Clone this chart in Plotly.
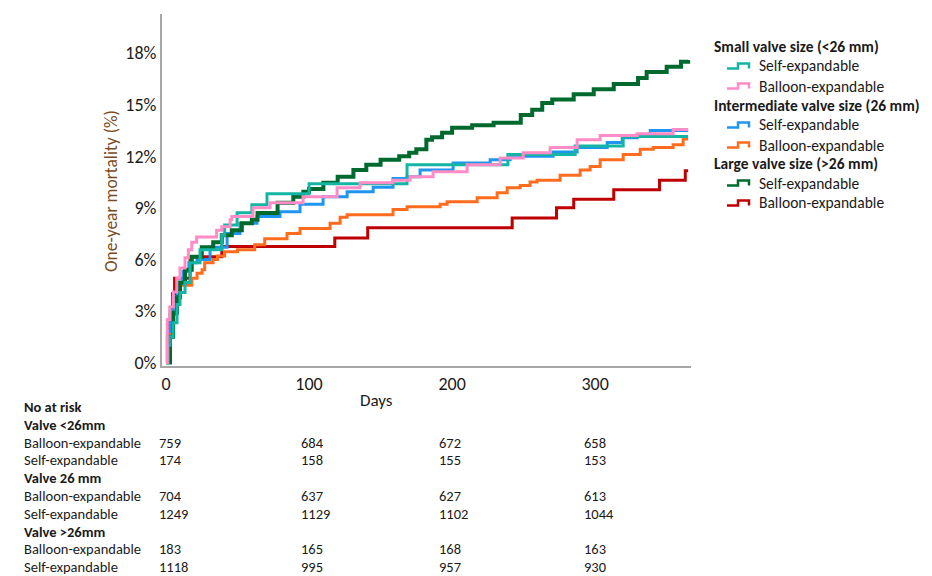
import plotly.graph_objects as go

# ---------------- data ----------------
x_tick_vals = [0, 100, 200, 300]
y_tick_vals = [0, 3, 6, 9, 12, 15, 18]
y_tick_text = ["0%", "3%", "6%", "9%", "12%", "15%", "18%"]

small_self_days = [0, 1.5, 2.8, 4.9, 7.7, 9.8, 13.3, 16.8, 23.8, 39, 41, 49.7, 60, 70.6, 100, 168.5, 239, 286, 319.6, 365]
small_self_pct = [0, 1.0, 1.5, 2.32, 3.37, 4.07, 4.65, 5.81, 6.56, 7.4, 8.0, 8.71, 9.17, 9.81, 10.4, 11.5, 12.1, 12.6, 13.15, 13.15]

small_balloon_days = [0, 0.9, 2.8, 5.1, 7.5, 9.8, 13.3, 15.6, 18, 21.4, 35.4, 39, 44.8, 46, 60.8, 72.7, 95.8,
                      119.6, 135.7, 158.7, 170.6, 186.7, 210.5, 233.6, 249.7, 268.5, 287.4, 303.5, 329.4, 354.5, 365]
small_balloon_pct = [0, 2.5, 3.25, 4.1, 4.9, 5.5, 6.1, 6.56, 7.0, 7.3, 7.7, 7.9, 8.3, 8.5, 9.0, 9.3, 9.64,
                     10.16, 10.45, 10.6, 10.8, 11.1, 11.5, 11.9, 12.2, 12.5, 12.95, 13.2, 13.3, 13.55, 13.55]

inter_self_days = [0, 1, 3, 5, 8, 12, 16, 21.7, 30.8, 42.7, 51.7, 63.6, 79.7, 93.7, 109.8, 126.6, 144.8, 158.7,
                   168.5, 177.6, 200.7, 226.6, 240.6, 270.6, 287.4, 308.4, 318.9, 329.4, 338.5, 365]
inter_self_pct = [0, 1.8, 3.0, 3.8, 4.6, 5.3, 5.8, 6.0, 6.7, 7.5, 8.1, 8.5, 8.77, 9.2, 9.64, 9.93, 10.2, 10.7,
                  10.8, 11.2, 11.6, 11.8, 12.0, 12.25, 12.5, 12.8, 13.07, 13.2, 13.5, 13.5]

inter_balloon_days = [0, 1, 3, 6, 10, 18, 21.7, 25.2, 27, 32.9, 36, 41, 50, 62, 69, 84.6, 93.7, 114.7, 121.7, 126.6,
                      158.7, 168.5, 191.6, 196.5, 217.5, 231.5, 238.5, 247.6, 254.5, 259.4, 275.5, 289.5, 296.5,
                      303.5, 319.6, 331.5, 340.6, 354.5, 361.5, 365]
inter_balloon_pct = [0, 1.5, 2.8, 3.8, 4.5, 4.9, 5.2, 5.4, 5.8, 6.0, 6.2, 6.45, 6.56, 6.85, 7.2, 7.5, 7.8, 8.1, 8.45, 8.6,
                     8.9, 9.06, 9.2, 9.35, 9.58, 9.87, 10.16, 10.3, 10.5, 10.6, 10.9, 11.2, 11.4,
                     11.8, 12.1, 12.4, 12.5, 12.66, 13.0, 13.0]

large_self_days = [0, 2.8, 5, 7.7, 9.8, 13.3, 18, 25, 33, 39, 46, 53, 60, 64, 78, 89, 96, 100, 110, 120, 131, 140,
                   150, 163, 170, 175, 182, 186, 193, 200, 214, 229, 248, 256, 263, 270, 285, 299, 313, 330, 336,
                   350, 360, 365]
large_self_pct = [0, 1.5, 2.9, 3.8, 4.65, 5.4, 6.15, 6.7, 7.0, 7.4, 7.7, 8.1, 8.3, 8.7, 9.3, 9.64, 9.93, 10.1, 10.45,
                  10.8, 11.2, 11.5, 11.8, 12.0, 12.2, 12.4, 12.95, 13.1, 13.36, 13.65, 13.8, 13.94, 14.4, 14.7, 15.1,
                  15.3, 15.6, 15.9, 16.2, 16.55, 16.9, 17.2, 17.5, 17.6]

large_balloon_days = [0, 1, 2, 3, 4.5, 6, 16.8, 39, 118, 141, 242, 273, 285, 313, 345, 363, 365]
large_balloon_pct = [0, 1.5, 2.5, 3.2, 4.0, 4.9, 6.15, 6.75, 7.25, 7.84, 8.4, 9.0, 9.5, 10.05, 10.6, 11.15, 11.15]

legend_groups = ["Small valve size (<26 mm)", "Intermediate valve size (26 mm)", "Large valve size (>26 mm)"]
legend_items = ["Self-expandable", "Balloon-expandable"]

risk_groups = ["Valve <26mm", "Valve 26 mm", "Valve >26mm"]
risk_rows = ["Balloon-expandable", "Self-expandable"]
risk_small_balloon = [759, 684, 672, 658]
risk_small_self = [174, 158, 155, 153]
risk_inter_balloon = [704, 637, 627, 613]
risk_inter_self = [1249, 1129, 1102, 1044]
risk_large_balloon = [183, 165, 168, 163]
risk_large_self = [1118, 995, 957, 930]

# ---------------- styling ----------------
FONT = "Calibri, Carlito, Lato, sans-serif"
TXT = "#1a1a1a"
AXIS = "#a6a6a6"
COLORS = ["#14b5a3", "#ff8cc6", "#1e96f0", "#ff6c1e", "#006a2e", "#be0000"]
WIDTHS = [3, 3, 3, 3, 4, 3]

series = [
    (legend_items[0], small_self_days, small_self_pct),
    (legend_items[1], small_balloon_days, small_balloon_pct),
    (legend_items[0], inter_self_days, inter_self_pct),
    (legend_items[1], inter_balloon_days, inter_balloon_pct),
    (legend_items[0], large_self_days, large_self_pct),
    (legend_items[1], large_balloon_days, large_balloon_pct),
]
draw_order = [5, 3, 2, 4, 0, 1]

fig = go.Figure()
for i in draw_order:
    name, xs, ys = series[i]
    fig.add_trace(go.Scatter(
        x=xs, y=ys, mode="lines", name=name,
        line=dict(color=COLORS[i], width=WIDTHS[i], shape="hv"),
        showlegend=False, hoverinfo="skip",
    ))

# the page has an 8px body margin, so the figure is 8px smaller than the window
fig.update_layout(
    width=924, height=568,
    margin=dict(l=154, r=241, t=6, b=210),
    paper_bgcolor="white", plot_bgcolor="white",
    font=dict(family=FONT, size=18, color=TXT),
    xaxis=dict(range=[-2.8, 367], tickvals=x_tick_vals, showgrid=False, zeroline=False,
               showline=True, linecolor=AXIS, linewidth=2, ticks="", tickfont=dict(size=18, color=TXT)),
    yaxis=dict(range=[-0.2, 20.27], tickvals=y_tick_vals, ticktext=y_tick_text, showgrid=False, zeroline=False,
               showline=True, linecolor=AXIS, linewidth=2, ticks="", tickfont=dict(size=18, color=TXT)),
)


# helpers: window pixel -> paper fraction (plot area spans x 162..691, y 14..366 in the window)
def pxp(p):
    return (p - 162) / 529


def py(p):
    return (366 - p) / 352


# axis titles
fig.add_annotation(text="Days", xref="paper", yref="paper", x=pxp(376), y=py(400),
                   showarrow=False, font=dict(size=17, color=TXT), xanchor="center", yanchor="middle")
fig.add_annotation(text="One-year mortality (%)", xref="paper", yref="paper", x=pxp(111), y=py(191),
                   textangle=-90, showarrow=False, font=dict(size=17.5, color="#7a4b22"),
                   xanchor="center", yanchor="middle")

# ---------------- legend (group titles + step-shaped keys) ----------------
title_y = [46, 105, 163]
for g in range(3):
    fig.add_annotation(text="<b>" + legend_groups[g] + "</b>", xref="paper", yref="paper",
                       x=pxp(712), y=py(title_y[g]), showarrow=False, xanchor="left", yanchor="middle",
                       font=dict(size=15.5, color=TXT))
    for k in range(2):
        idx = 2 * g + k
        yc = title_y[g] + 20 * (k + 1)
        fig.add_annotation(text=legend_items[k], xref="paper", yref="paper",
                           x=pxp(757), y=py(yc), showarrow=False, xanchor="left", yanchor="middle",
                           font=dict(size=15.5, color=TXT))
        x0, x1, x2 = pxp(727), pxp(738), pxp(749)
        ylo, yhi = py(yc + 2.5), py(yc - 2.5)
        fig.add_shape(type="path", xref="paper", yref="paper",
                      path=f"M {x0},{ylo} L {x1},{ylo} L {x1},{yhi} L {x2},{yhi} L {x2},{ylo}",
                      line=dict(color=COLORS[idx], width=2.5))

# ---------------- number-at-risk table ----------------
label_x = pxp(22)
col_x = [pxp(157), pxp(299), pxp(437), pxp(582)]
rows = [
    ("<b>No at risk</b>", None),
    ("<b>" + risk_groups[0] + "</b>", None),
    (risk_rows[0], risk_small_balloon),
    (risk_rows[1], risk_small_self),
    ("<b>" + risk_groups[1] + "</b>", None),
    (risk_rows[0], risk_inter_balloon),
    (risk_rows[1], risk_inter_self),
    ("<b>" + risk_groups[2] + "</b>", None),
    (risk_rows[0], risk_large_balloon),
    (risk_rows[1], risk_large_self),
]
row_y = [407, 424.8, 442.6, 460.4, 478.2, 496, 513.8, 531.6, 549.4, 567.2]
for (label, vals), yy in zip(rows, row_y):
    fig.add_annotation(text=label, xref="paper", yref="paper", x=label_x, y=py(yy), showarrow=False,
                       xanchor="left", yanchor="middle", font=dict(size=14.5, color=TXT))
    if vals:
        for cx, v in zip(col_x, vals):
            fig.add_annotation(text=str(v), xref="paper", yref="paper", x=cx, y=py(yy), showarrow=False,
                               xanchor="left", yanchor="middle", font=dict(size=14.5, color=TXT))

fig.write_html("out.html")
